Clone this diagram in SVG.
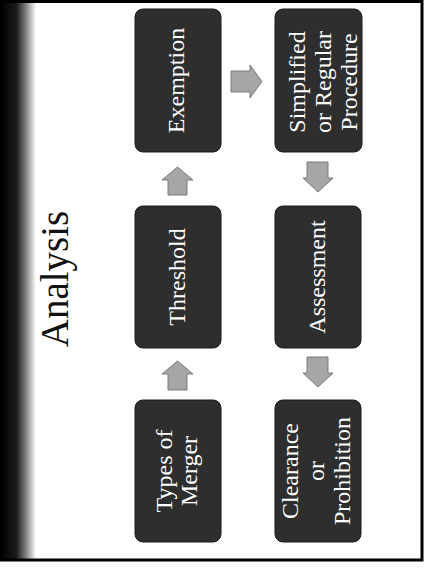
<svg xmlns="http://www.w3.org/2000/svg" width="425" height="568" viewBox="0 0 425 568">
<style>
.box{fill:#2e2e2e;stroke:#1a1a1a;stroke-width:1}
.lbl{font-family:"Liberation Serif","Times New Roman",serif;font-size:24px;fill:#ffffff;text-anchor:middle}
.title{font-family:"Liberation Serif","Times New Roman",serif;font-size:39px;fill:#111111;text-anchor:middle}
.arrow{fill:#a6a6a6;stroke:#7a7a7a;stroke-width:1}
</style>
<defs>
<linearGradient id="band" x1="0" y1="0" x2="1" y2="0">
<stop offset="0" stop-color="#000000"/>
<stop offset="0.45" stop-color="#1a1a1a"/>
<stop offset="0.7" stop-color="#777777"/>
<stop offset="0.85" stop-color="#bbbbbb"/>
<stop offset="1" stop-color="#ffffff"/>
</linearGradient>
</defs>
<rect x="0" y="0" width="425" height="568" fill="#ffffff"/>
<rect x="0" y="0" width="36" height="561" fill="url(#band)"/>
<rect x="1.5" y="1.5" width="420.5" height="558.5" fill="none" stroke="#000000" stroke-width="3"/>
<g id="title">
<text class="title" transform="translate(68,279) rotate(-90)">Analysis</text>
</g>
<g id="connectors">
<path class="arrow" d="M177.5,167 L193,180 L187,180 L187,195 L168,195 L168,180 L162,180 Z"/>
<path class="arrow" d="M177.5,361 L193,374 L187,374 L187,390 L168,390 L168,374 L162,374 Z"/>
<path class="arrow" d="M231,71 L250,71 L250,65 L262,81.5 L250,98 L250,92 L231,92 Z"/>
<path class="arrow" d="M307,162 L328,162 L328,178 L333,178 L318,192 L303,178 L307,178 Z"/>
<path class="arrow" d="M307,357 L328,357 L328,373 L333,373 L318,387 L303,373 L307,373 Z"/>
</g>
<g id="exemption">
<rect class="box" x="135" y="9" width="86" height="143" rx="8"/>
<text class="lbl" transform="translate(184,80.5) rotate(-90)">Exemption</text>
</g>
<g id="threshold">
<rect class="box" x="135" y="206" width="86" height="142" rx="8"/>
<text class="lbl" transform="translate(185,277) rotate(-90)">Threshold</text>
</g>
<g id="types-of-merger">
<rect class="box" x="135" y="400" width="86" height="142" rx="8"/>
<text class="lbl" transform="translate(172,471) rotate(-90)"><tspan x="0" y="0">Types of</tspan><tspan x="0" y="24.5">Merger</tspan></text>
</g>
<g id="simplified">
<rect class="box" x="275" y="9" width="87" height="143" rx="8"/>
<text class="lbl" transform="translate(305,82) rotate(-90)"><tspan x="0" y="0">Simplified</tspan><tspan x="0" y="26">or Regular</tspan><tspan x="0" y="52">Procedure</tspan></text>
</g>
<g id="assessment">
<rect class="box" x="275" y="206" width="86" height="142" rx="8"/>
<text class="lbl" transform="translate(325,277) rotate(-90)">Assessment</text>
</g>
<g id="clearance">
<rect class="box" x="275" y="400" width="86" height="142" rx="8"/>
<text class="lbl" transform="translate(298,471) rotate(-90)"><tspan x="0" y="0">Clearance</tspan><tspan x="0" y="26">or</tspan><tspan x="0" y="52">Prohibition</tspan></text>
</g>
</svg>
